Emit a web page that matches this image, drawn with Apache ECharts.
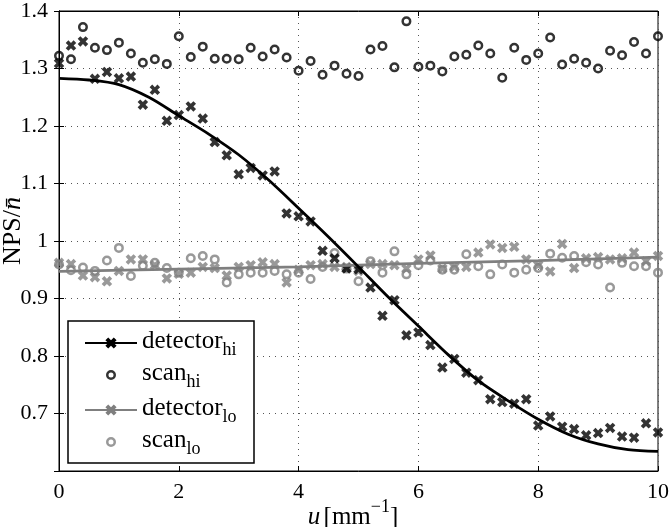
<!DOCTYPE html>
<html><head><meta charset="utf-8">
<script src="https://cdn.jsdelivr.net/npm/echarts@6/dist/echarts.min.js"></script>
<style>html,body{margin:0;padding:0;background:#fff}#c{width:672px;height:527px}</style>
</head><body><div id="c"></div>
<script>
// sample positions u [mm^-1]
const uPts = [0,0.2,0.4,0.6,0.8,1.0,1.2,1.4,1.6,1.8,2.0,2.2,2.4,2.6,2.8,3.0,3.2,3.4,3.6,3.8,4.0,4.2,4.4,4.6,4.8,5.0,5.2,5.4,5.6,5.8,6.0,6.2,6.4,6.6,6.8,7.0,7.2,7.4,7.6,7.8,8.0,8.2,8.4,8.6,8.8,9.0,9.2,9.4,9.6,9.8,10];
const scanHi = [1.322,1.316,1.372,1.336,1.332,1.345,1.326,1.310,1.316,1.308,1.356,1.320,1.338,1.317,1.317,1.316,1.336,1.321,1.333,1.319,1.296,1.313,1.289,1.305,1.291,1.287,1.333,1.339,1.302,1.382,1.303,1.305,1.295,1.321,1.324,1.340,1.326,1.284,1.336,1.315,1.326,1.354,1.307,1.317,1.310,1.300,1.331,1.323,1.346,1.326,1.356];
const detHi = [1.309,1.340,1.347,1.282,1.294,1.283,1.286,1.237,1.263,1.209,1.219,1.234,1.213,1.172,1.149,1.116,1.127,1.114,1.121,1.048,1.043,1.034,0.983,0.970,0.952,0.951,0.919,0.870,0.897,0.836,0.841,0.819,0.780,0.795,0.771,0.758,0.725,0.720,0.717,0.725,0.679,0.695,0.677,0.673,0.662,0.666,0.675,0.660,0.658,0.683,0.667];
const scanLo = [0.959,0.949,0.954,0.948,0.966,0.988,0.939,0.957,0.962,0.953,0.945,0.970,0.974,0.968,0.928,0.942,0.945,0.945,0.948,0.942,0.945,0.934,0.955,0.979,0.952,0.930,0.965,0.945,0.982,0.942,0.958,0.966,0.950,0.950,0.977,0.956,0.942,0.959,0.945,0.950,0.953,0.978,0.971,0.974,0.963,0.959,0.919,0.962,0.956,0.956,0.945];
const detLo = [0.962,0.960,0.940,0.937,0.930,0.948,0.968,0.968,0.958,0.935,0.943,0.945,0.955,0.953,0.940,0.955,0.958,0.963,0.960,0.928,0.950,0.958,0.960,0.955,0.955,0.948,0.960,0.960,0.958,0.952,0.968,0.975,0.952,0.955,0.955,0.980,0.994,0.988,0.990,0.968,0.958,0.947,0.995,0.953,0.970,0.972,0.968,0.970,0.980,0.965,0.974];
// fitted curves
const uFitHi = [0,0.5,1,1.5,2,2.5,3,3.5,4,4.5,5,5.5,6,6.5,7,7.5,8,8.5,9,9.5,10];
const fitHi = [1.283,1.280,1.272,1.250,1.218,1.186,1.150,1.106,1.057,1.007,0.955,0.902,0.852,0.802,0.757,0.722,0.690,0.664,0.647,0.637,0.634];
const uFitLo = [0,2,4,6,8,10];
const fitLo = [0.947,0.951,0.955,0.961,0.966,0.972];
const xTicks = [0,2,4,6,8,10];
const yTicks = [0.6,0.7,0.8,0.9,1.0,1.1,1.2,1.3,1.4];

const FONT = 'Liberation Serif';
const GRAY = '#7f7f7f';
const CROSS = 'path://M0,2.5 L2.5,0 L5,2.5 L7.5,0 L10,2.5 L7.5,5 L10,7.5 L7.5,10 L5,7.5 L2.5,10 L0,7.5 L2.5,5 Z';
const RING = 'path://M5,0 A5,5 0 1,1 5,10 A5,5 0 1,1 5,0 Z M5,2.5 A2.5,2.5 0 1,0 5,7.5 A2.5,2.5 0 1,0 5,2.5 Z';
// same ring with an invisible margin so the legend icon stays small
const RING_LEG = 'path://M-2,-2 M12,12 M5,0 A5,5 0 1,1 5,10 A5,5 0 1,1 5,0 Z M5,2.5 A2.5,2.5 0 1,0 5,7.5 A2.5,2.5 0 1,0 5,2.5 Z';
const zip = (a,b) => a.map((v,i)=>[v,b[i]]);

const chart = echarts.init(document.getElementById('c'), null, {renderer:'canvas'});
const gridLine = {show:true, lineStyle:{color:'#555', type:[1,5], width:1}};
const legendRich = {
  m:{fontFamily:FONT,fontSize:25,color:'#000',verticalAlign:'top',lineHeight:28},
  s:{fontFamily:FONT,fontSize:18,color:'#000',verticalAlign:'top',lineHeight:16,padding:[12,0,0,0]}
};
const legendFmt = n => { const p = n.split('_'); return '{m|'+p[0]+'}{s|'+p[1]+'}'; };
const legendBase = {
  orient:'vertical', left:79, itemWidth:52, itemHeight:14, itemGap:2,
  formatter: legendFmt, textStyle:{rich:legendRich}, selectedMode:false, z:10
};

chart.setOption({
  animation:false,
  backgroundColor:'#fff',
  grid:{left:59, right:13, top:9, bottom:56, show:true, borderColor:'#000', borderWidth:1, containLabel:false},
  xAxis:[
    {type:'value', min:xTicks[0], max:xTicks[xTicks.length-1], interval:2,
     axisLine:{show:true, lineStyle:{color:'#000'}},
     axisTick:{show:true, inside:true, length:5, lineStyle:{color:'#000'}},
     axisLabel:{fontFamily:FONT, fontSize:22, color:'#000', margin:10},
     splitLine:gridLine},
    {type:'value', position:'top', min:0, max:10, interval:2,
     axisLine:{show:true, lineStyle:{color:'#000'}},
     axisTick:{show:true, inside:true, length:5, lineStyle:{color:'#000'}},
     axisLabel:{show:false}, splitLine:{show:false}}
  ],
  yAxis:[
    {type:'value', min:yTicks[0], max:yTicks[yTicks.length-1], interval:0.1,
     axisLine:{show:true, lineStyle:{color:'#000'}},
     axisTick:{show:true, inside:true, length:5, lineStyle:{color:'#000'}},
     axisLabel:{fontFamily:FONT, fontSize:22, color:'#000', margin:11,
       formatter: v => { const r = Math.round(v*10)/10; return r === 0.6 ? '' : String(r); }},
     splitLine:gridLine},
    {type:'value', position:'right', min:0.6, max:1.4, interval:0.1,
     axisLine:{show:true, lineStyle:{color:'#000'}},
     axisTick:{show:true, inside:true, length:5, lineStyle:{color:'#000'}},
     axisLabel:{show:false}, splitLine:{show:false}}
  ],
  legend:[
    Object.assign({}, legendBase, {top:324, data:['detector_hi', {name:'scan_hi', icon:RING_LEG}]}),
    Object.assign({}, legendBase, {top:391, data:['detector_lo', {name:'scan_lo', icon:RING_LEG}]})
  ],
  graphic:[
    {type:'rect', z:5, shape:{x:68, y:321, width:186, height:142},
     style:{fill:'#fff', stroke:'#000', lineWidth:1.5}},
    {type:'text', z:5, x:353, y:514,
     style:{align:'center', verticalAlign:'middle',
       text:'{i|u} {n|[mm}{p|\u22121}{n|]}',
       rich:{
         i:{fontFamily:FONT, fontStyle:'italic', fontSize:25, fill:'#000', verticalAlign:'top', padding:[7,0,0,0]},
         n:{fontFamily:FONT, fontSize:25, fill:'#000', verticalAlign:'top', padding:[7,0,0,0]},
         p:{fontFamily:FONT, fontSize:18, fill:'#000', verticalAlign:'top'}
       }}},
    {type:'text', z:5, x:13, y:231, rotation:Math.PI/2,
     style:{align:'center', verticalAlign:'middle',
       text:'{a|NPS/}{b|n\u0304}',
       rich:{
         a:{fontFamily:FONT, fontSize:26, fill:'#000'},
         b:{fontFamily:FONT, fontStyle:'italic', fontSize:26, fill:'#000'}
       }}}
  ],
  series:[
    {name:'detector_lo', type:'line', data:zip(uFitLo, fitLo), showSymbol:false, symbol:CROSS,
     color:GRAY, lineStyle:{color:GRAY, width:2.8}, itemStyle:{color:GRAY}, z:3, silent:true},
    {name:'detLoPts', type:'scatter', data:zip(uPts, detLo), symbol:CROSS, symbolSize:10.5,
     itemStyle:{color:GRAY}, z:2, silent:true},
    {name:'scan_lo', type:'scatter', data:zip(uPts, scanLo), symbol:RING, symbolSize:10,
     itemStyle:{color:GRAY}, z:2, silent:true},
    {name:'scan_hi', type:'scatter', data:zip(uPts, scanHi), symbol:RING, symbolSize:10,
     itemStyle:{color:'#000'}, z:2, silent:true},
    {name:'detHiPts', type:'scatter', data:zip(uPts, detHi), symbol:CROSS, symbolSize:10.5,
     itemStyle:{color:'#000'}, z:2, silent:true},
    {name:'detector_hi', type:'line', data:zip(uFitHi, fitHi), smooth:0.3, showSymbol:false, symbol:CROSS,
     color:'#000', lineStyle:{color:'#000', width:2.8}, itemStyle:{color:'#000'}, z:3, silent:true}
  ]
});
</script></body></html>
